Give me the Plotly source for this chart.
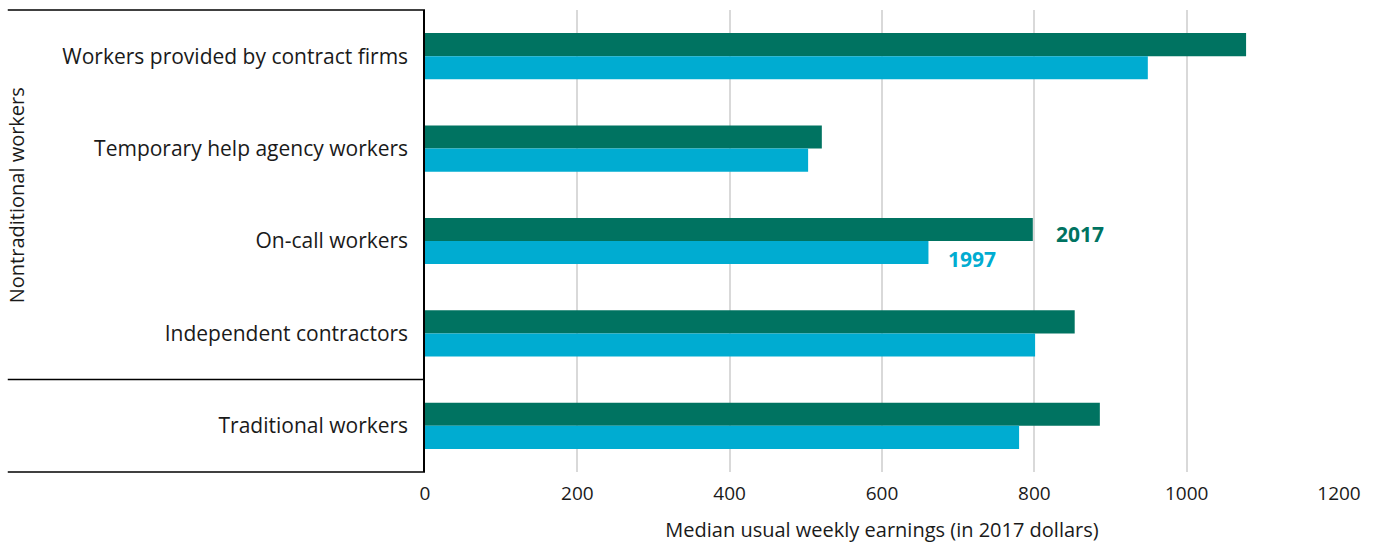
import plotly.graph_objects as go

# Median usual weekly earnings (2017 dollars) by work arrangement
categories = [
    "Workers provided by contract firms",
    "Temporary help agency workers",
    "On-call workers",
    "Independent contractors",
    "Traditional workers",
]
earnings_2017 = [1078, 521, 798, 853, 886]
earnings_1997 = [949, 503, 661, 801, 780]
x_ticks = [0, 200, 400, 600, 800, 1000, 1200]

GREEN = "#007361"
CYAN = "#00acd1"
FONT = "Open Sans"

fig = go.Figure()
fig.add_trace(go.Bar(y=categories, x=earnings_2017, orientation="h",
                     name="2017", marker=dict(color=GREEN, line=dict(width=0))))
fig.add_trace(go.Bar(y=categories, x=earnings_1997, orientation="h",
                     name="1997", marker=dict(color=CYAN, line=dict(width=0))))

# Series labels next to the on-call bars
fig.add_annotation(x=826, y="On-call workers", xref="x", yref="y", text="<b>2017</b>",
                   showarrow=False, xanchor="left", yshift=7,
                   font=dict(family=FONT, size=21, color=GREEN))
fig.add_annotation(x=684, y="On-call workers", xref="x", yref="y", text="<b>1997</b>",
                   showarrow=False, xanchor="left", yshift=-18,
                   font=dict(family=FONT, size=21, color=CYAN))

# Group bracket on the left: lines and rotated group label
line_style = dict(color="black", width=1.5)
for y_pos in [1.0, 0.2, 0.0]:
    fig.add_shape(type="line", xref="paper", yref="paper", x0=-0.4565, x1=0,
                  y0=y_pos, y1=y_pos, line=line_style)
fig.add_annotation(x=-0.447, y=0.6, xref="paper", yref="paper", text="Nontraditional workers",
                   textangle=-90, showarrow=False, xanchor="center", yanchor="middle",
                   font=dict(family=FONT, size=20, color="#1a1a1a"))

fig.update_layout(
    width=1377, height=546,
    margin=dict(l=425, r=38, t=10, b=74),
    paper_bgcolor="white", plot_bgcolor="white",
    barmode="group", bargap=0.5, bargroupgap=0,
    showlegend=False,
    font=dict(family=FONT, size=19, color="#1a1a1a"),
    xaxis=dict(range=[0, 1200], tickvals=x_ticks, ticktext=[str(v) for v in x_ticks],
               showgrid=True, gridcolor="#d9d9d9", gridwidth=2, zeroline=False,
               showline=False, ticks="", tickfont=dict(size=19), ticklabelstandoff=8,
               automargin=False,
               title=dict(text="Median usual weekly earnings (in 2017 dollars)",
                          font=dict(size=20), standoff=17)),
    yaxis=dict(autorange="reversed", showline=True, linecolor="black", linewidth=1.5,
               ticks="", showgrid=False, tickfont=dict(size=21), ticksuffix="  ",
               automargin=False),
)

fig.write_html("out.html")
